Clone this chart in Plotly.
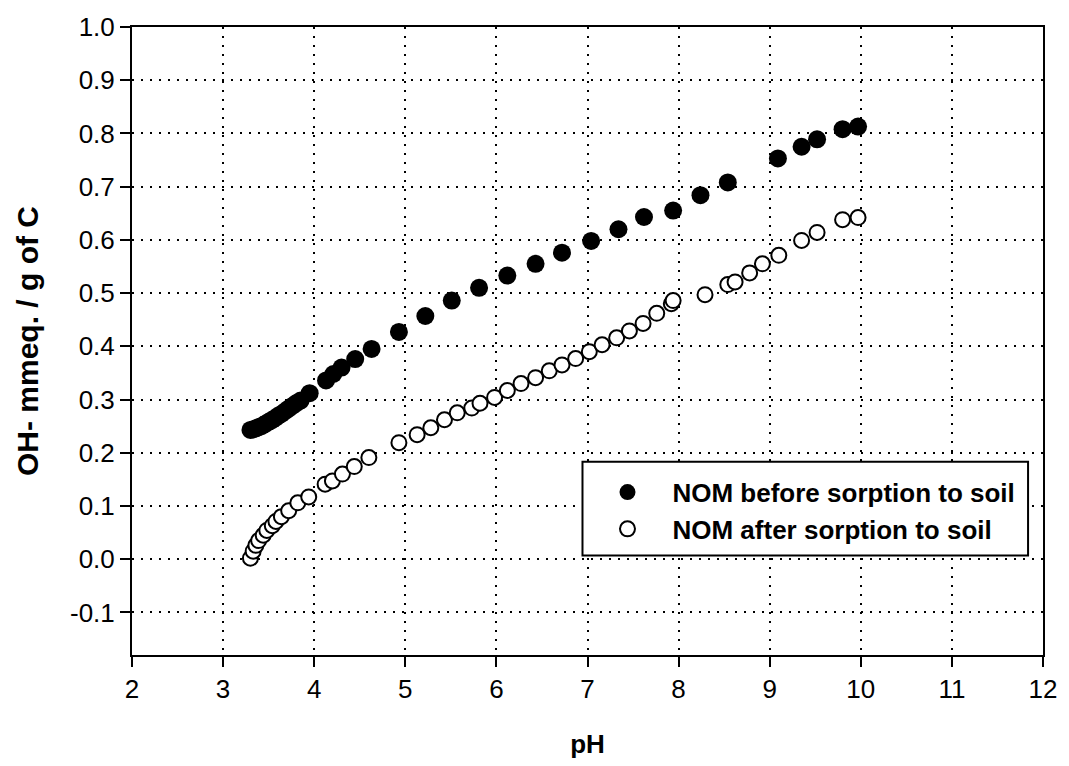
import plotly.graph_objects as go

# Titration data: base consumption of NOM versus pH
ph_before = [3.30, 3.33, 3.36, 3.39, 3.42, 3.45, 3.48, 3.51, 3.54, 3.57, 3.60, 3.64,
             3.68, 3.72, 3.76, 3.80, 3.85, 3.95, 4.13, 4.21, 4.30, 4.45, 4.63, 4.93,
             5.22, 5.51, 5.81, 6.12, 6.43, 6.72, 7.04, 7.34, 7.62, 7.94, 8.24, 8.54,
             9.09, 9.35, 9.52, 9.80, 9.97]
oh_before = [0.243, 0.244, 0.246, 0.248, 0.250, 0.253, 0.256, 0.259, 0.262, 0.265, 0.269, 0.273,
             0.278, 0.283, 0.288, 0.293, 0.298, 0.312, 0.336, 0.348, 0.360, 0.376, 0.395, 0.427,
             0.457, 0.486, 0.510, 0.533, 0.555, 0.576, 0.598, 0.620, 0.643, 0.655, 0.684, 0.708,
             0.753, 0.775, 0.789, 0.808, 0.813]

ph_after = [3.30, 3.33, 3.36, 3.39, 3.44, 3.48, 3.54, 3.58, 3.64, 3.72, 3.82, 3.94,
            4.12, 4.20, 4.31, 4.44, 4.60, 4.93, 5.13, 5.28, 5.43, 5.57, 5.73, 5.82,
            5.98, 6.12, 6.27, 6.43, 6.58, 6.72, 6.87, 7.02, 7.16, 7.32, 7.46, 7.61,
            7.76, 7.92, 7.94, 8.29, 8.54, 8.62, 8.78, 8.92, 9.10, 9.35, 9.52, 9.80, 9.97]
oh_after = [0.002, 0.015, 0.026, 0.035, 0.045, 0.054, 0.063, 0.071, 0.080, 0.091, 0.106, 0.117,
            0.141, 0.147, 0.160, 0.174, 0.191, 0.219, 0.234, 0.247, 0.262, 0.275, 0.284, 0.293,
            0.304, 0.317, 0.330, 0.341, 0.354, 0.365, 0.377, 0.390, 0.403, 0.416, 0.429, 0.443,
            0.462, 0.480, 0.486, 0.497, 0.516, 0.521, 0.538, 0.555, 0.571, 0.599, 0.614, 0.638, 0.642]

series_names = ["NOM before sorption to soil", "NOM after sorption to soil"]

# Axis ticks
x_ticks = [2, 3, 4, 5, 6, 7, 8, 9, 10, 11, 12]
y_ticks = [-0.1, 0.0, 0.1, 0.2, 0.3, 0.4, 0.5, 0.6, 0.7, 0.8, 0.9, 1.0]
y_tick_labels = ["-0.1", "0.0", "0.1", "0.2", "0.3", "0.4", "0.5", "0.6", "0.7", "0.8", "0.9", "1.0"]

FONT = "Liberation Sans, Arial, sans-serif"

fig = go.Figure()
fig.add_trace(go.Scatter(
    x=ph_before, y=oh_before, mode="markers", name=series_names[0],
    marker=dict(symbol="circle", size=18, color="black", line=dict(width=0)),
))
fig.add_trace(go.Scatter(
    x=ph_after, y=oh_after, mode="markers", name=series_names[1],
    marker=dict(symbol="circle", size=15, color="white", line=dict(width=2, color="black")),
))

axis_common = dict(
    showline=True, linecolor="black", linewidth=2, mirror=True,
    ticks="outside", ticklen=10, tickwidth=1.5, tickcolor="black",
    showgrid=True, gridcolor="black", gridwidth=2, griddash="2px,7px",
    zeroline=False,
    tickfont=dict(family=FONT, size=26, color="black"),
)

fig.update_xaxes(
    range=[2, 12], tickvals=x_ticks,
    title=dict(text="<b>pH</b>", font=dict(family=FONT, size=26, color="black"), standoff=32),
    **axis_common,
)
fig.update_yaxes(
    range=[-0.18, 1.0], tickvals=y_ticks, ticktext=y_tick_labels,
    title=dict(text="<b>OH- mmeq. / g of C</b>", font=dict(family=FONT, size=30, color="black"), standoff=22),
    **axis_common,
)

# Legend frame: white box over the plot, legend entries drawn on top of it
fig.add_shape(
    type="rect", xref="paper", yref="paper",
    x0=0.4945, x1=0.9836, y0=0.1586, y1=0.3077,
    fillcolor="white", line=dict(color="black", width=2), layer="above",
)

fig.update_layout(
    width=1069, height=766,
    margin=dict(l=132, r=21, t=21, b=108),
    paper_bgcolor="white", plot_bgcolor="white",
    showlegend=True,
    legend=dict(
        x=0.4945, y=0.2967, xanchor="left", yanchor="top",
        bgcolor="rgba(0,0,0,0)", borderwidth=0,
        font=dict(family=FONT, size=26, color="black", weight="bold"),
        itemwidth=80,
    ),
)

fig.write_html("out.html")
